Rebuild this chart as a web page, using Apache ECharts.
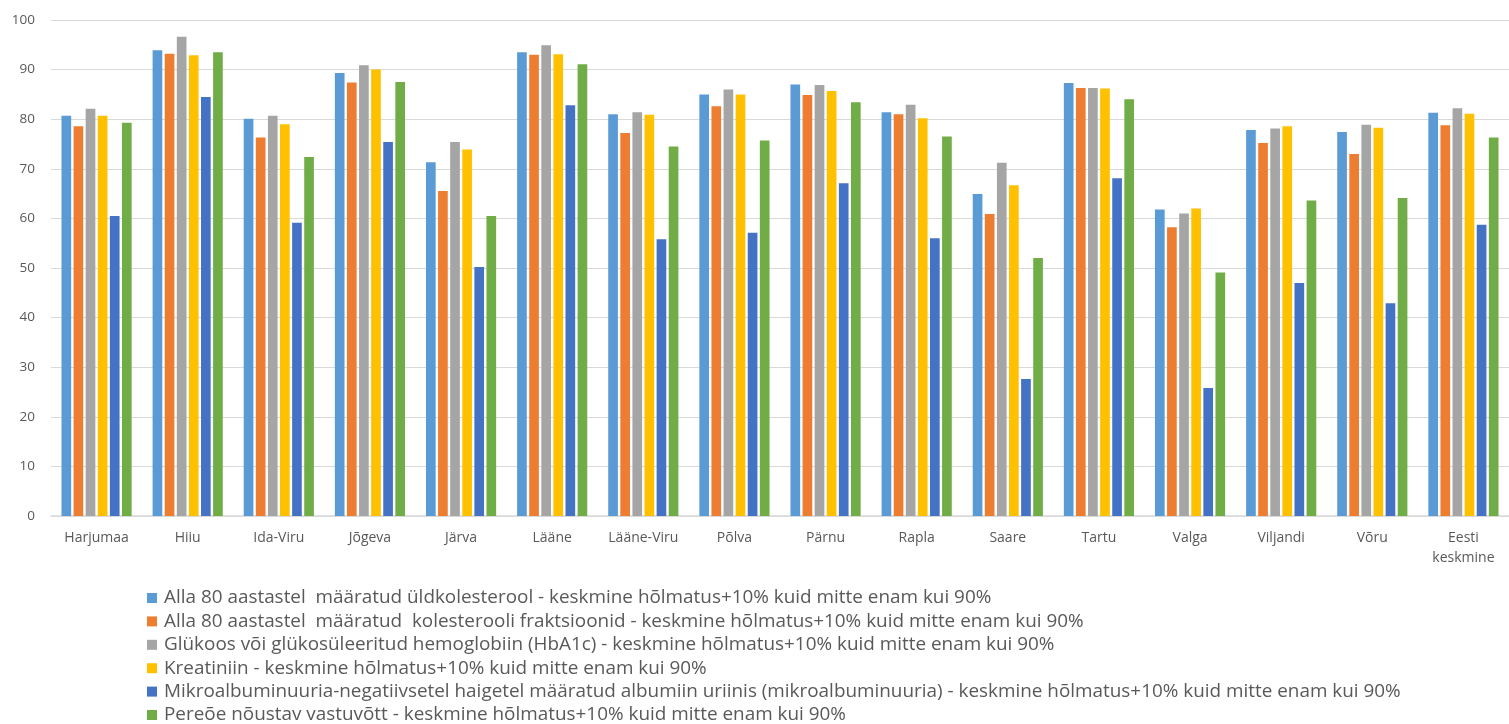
<!DOCTYPE html>
<html>
<head>
<meta charset="utf-8">
<script src="https://cdn.jsdelivr.net/npm/echarts@6/dist/echarts.min.js"></script>
<style>
  html, body { margin: 0; padding: 0; background: #ffffff; }
  #chart { width: 1509px; height: 724px; }
</style>
</head>
<body>
<div id="chart"></div>
<script>
// Counties of Estonia plus the national average
const categories = ['Harjumaa', 'Hiiu', 'Ida-Viru', 'Jõgeva', 'Järva', 'Lääne', 'Lääne-Viru', 'Põlva', 'Pärnu', 'Rapla', 'Saare', 'Tartu', 'Valga', 'Viljandi', 'Võru', 'Eesti\nkeskmine'];

const seriesNames = [
  'Alla 80 aastastel  määratud üldkolesterool - keskmine hõlmatus+10% kuid mitte enam kui 90%',
  'Alla 80 aastastel  määratud  kolesterooli fraktsioonid - keskmine hõlmatus+10% kuid mitte enam kui 90%',
  'Glükoos või glükosüleeritud hemoglobiin (HbA1c) - keskmine hõlmatus+10% kuid mitte enam kui 90%',
  'Kreatiniin - keskmine hõlmatus+10% kuid mitte enam kui 90%',
  'Mikroalbuminuuria-negatiivsetel haigetel määratud albumiin uriinis (mikroalbuminuuria) - keskmine hõlmatus+10% kuid mitte enam kui 90%',
  'Pereõe nõustav vastuvõtt - keskmine hõlmatus+10% kuid mitte enam kui 90%'
];

const uldkolesterool = [80.7, 93.9, 80.1, 89.3, 71.3, 93.5, 81.0, 85.0, 87.0, 81.4, 64.9, 87.3, 61.8, 77.8, 77.4, 81.3];
const fraktsioonid   = [78.6, 93.2, 76.3, 87.4, 65.5, 93.0, 77.2, 82.6, 84.9, 81.0, 60.9, 86.3, 58.2, 75.2, 73.0, 78.8];
const glukoos        = [82.1, 96.6, 80.7, 90.9, 75.4, 94.9, 81.4, 86.0, 86.9, 82.9, 71.2, 86.3, 61.0, 78.1, 78.9, 82.2];
const kreatiniin     = [80.7, 92.9, 79.0, 90.0, 73.9, 93.1, 80.9, 85.0, 85.7, 80.2, 66.7, 86.2, 62.0, 78.6, 78.3, 81.1];
const mikroalbumin   = [60.5, 84.5, 59.1, 75.4, 50.2, 82.8, 55.8, 57.1, 67.1, 56.0, 27.6, 68.1, 25.8, 47.0, 42.9, 58.7];
const pereode        = [79.3, 93.5, 72.4, 87.5, 60.5, 91.1, 74.5, 75.7, 83.4, 76.5, 52.0, 84.0, 49.1, 63.6, 64.1, 76.3];

const yTicks = { min: 0, max: 100, interval: 10 };

const colors = ['#5B9BD5', '#ED7D31', '#A5A5A5', '#FFC000', '#4472C4', '#70AD47'];
const values = [uldkolesterool, fraktsioonid, glukoos, kreatiniin, mikroalbumin, pereode];

const fontFamily = '"Open Sans", "Noto Sans", sans-serif';

const chart = echarts.init(document.getElementById('chart'), null, { renderer: 'canvas' });

chart.setOption({
  animation: false,
  color: colors,
  textStyle: { fontFamily: fontFamily },
  grid: { left: 51, right: 0, top: 20, bottom: 208, containLabel: false },
  legend: {
    orient: 'vertical',
    left: 147,
    top: 588,
    height: 160,
    padding: 0,
    icon: 'rect',
    itemWidth: 10,
    itemHeight: 10,
    itemGap: 3.4,
    textStyle: { fontSize: 18.9, color: '#595959', lineHeight: 20, padding: [0, 0, 0, 2], fontFamily: fontFamily }
  },
  xAxis: {
    type: 'category',
    data: categories,
    axisLine: { show: true, lineStyle: { color: '#D9D9D9', width: 1.5 } },
    axisTick: { show: false },
    axisLabel: { color: '#595959', fontSize: 14, margin: 12, lineHeight: 20, interval: 0 }
  },
  yAxis: {
    type: 'value',
    min: yTicks.min,
    max: yTicks.max,
    interval: yTicks.interval,
    axisLine: { show: false },
    axisTick: { show: false },
    axisLabel: { color: '#595959', fontSize: 13.5, margin: 16 },
    splitLine: { lineStyle: { color: '#D9D9D9', width: 1 } }
  },
  series: seriesNames.map((name, i) => ({
    name: name,
    type: 'bar',
    data: values[i],
    barGap: '25%',
    barCategoryGap: '23%',
    itemStyle: { color: colors[i] }
  }))
});
</script>
</body>
</html>
